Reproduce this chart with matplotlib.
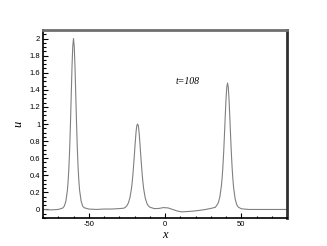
import matplotlib
matplotlib.use("Agg")
import matplotlib.pyplot as plt
from matplotlib.ticker import MultipleLocator

# values (t=108)
x_vals = [-80, -75, -70, -67, -66, -65, -64, -63.5, -63, -62.5, -62, -61.5, -61, -60.5,
          -60, -59.5, -59, -58.5, -58, -57.5, -57, -56.5, -56, -55, -54, -53, -50, -45,
          -40, -35, -30, -27, -26, -25, -24, -23, -22, -21.5, -21, -20.5, -20, -19.5,
          -19, -18.5, -18, -17.5, -17, -16.5, -16, -15.5, -15, -14.5, -14, -13, -12,
          -11, -10, -7, -4, -1, 2, 5, 8, 11, 14, 18, 22, 26, 30, 33, 34, 35, 36, 37,
          37.5, 38, 38.5, 39, 39.5, 40, 40.5, 41, 41.5, 42, 42.5, 43, 43.5, 44, 44.5,
          45, 46, 47, 48, 50, 55, 60, 65, 70, 75, 80]
u_vals = [0.0, -0.005, 0.0, 0.017, 0.04, 0.096, 0.224, 0.338, 0.496, 0.718, 1.0, 1.33,
          1.658, 1.906, 2.0, 1.906, 1.658, 1.33, 1.0, 0.718, 0.496, 0.338, 0.224, 0.096,
          0.04, 0.02, 0.005, 0.0, 0.005, 0.005, 0.01, 0.015, 0.025, 0.044, 0.077, 0.137,
          0.243, 0.322, 0.42, 0.535, 0.66, 0.79, 0.903, 0.982, 1.0, 0.982, 0.903, 0.79,
          0.66, 0.535, 0.42, 0.322, 0.243, 0.137, 0.077, 0.044, 0.027, 0.01, 0.012,
          0.022, 0.018, 0.0, -0.018, -0.028, -0.025, -0.02, -0.012, -0.002, 0.012,
          0.025, 0.05, 0.08, 0.15, 0.28, 0.38, 0.515, 0.68, 0.88, 1.09, 1.29, 1.43,
          1.48, 1.428, 1.283, 1.082, 0.864, 0.663, 0.492, 0.355, 0.253, 0.123, 0.058,
          0.028, 0.008, 0.0, 0.0, 0.0, 0.0, 0.0, 0.0]

x_ticks = [-50, 0, 50]
y_ticks = [0, 0.2, 0.4, 0.6, 0.8, 1, 1.2, 1.4, 1.6, 1.8, 2]
y_ticklabels = ["0", "0.2", "0.4", "0.6", "0.8", "1", "1.2", "1.4", "1.6", "1.8", "2"]

fig = plt.figure(figsize=(3.27, 2.46), dpi=100)
ax = fig.add_axes([0.1315, 0.1138, 0.7462, 0.7642])

ax.plot(x_vals, u_vals, color="#808080", lw=0.8)

ax.set_xlim(-80, 80)
ax.set_ylim(-0.1, 2.1)
ax.set_xticks(x_ticks)
ax.set_xticklabels([str(t) for t in x_ticks])
ax.set_yticks(y_ticks)
ax.set_yticklabels(y_ticklabels)
ax.xaxis.set_minor_locator(MultipleLocator(10))
ax.yaxis.set_minor_locator(MultipleLocator(0.05))
ax.tick_params(which="both", direction="in", top=False, right=False,
               labelsize=5.5, pad=2, width=0.8)
ax.tick_params(which="major", length=3.5)
ax.tick_params(which="minor", length=1.8)
for lab in ax.get_xticklabels() + ax.get_yticklabels():
    lab.set_family("Liberation Sans")

ax.spines["left"].set_linewidth(1.2)
ax.spines["bottom"].set_linewidth(1.2)
ax.spines["top"].set_linewidth(2)
ax.spines["top"].set_color("#707070")
ax.spines["right"].set_linewidth(2)
ax.spines["right"].set_color("#303030")

ax.set_xlabel("x", family="Liberation Serif", style="italic", fontsize=9, labelpad=1)
ax.set_ylabel("u", family="Liberation Serif", style="italic", fontsize=9, labelpad=4)
ax.text(15, 1.5, "t=108", family="Liberation Serif", style="italic", fontsize=7,
        ha="center", va="center")

fig.savefig("out.png", dpi=100)
